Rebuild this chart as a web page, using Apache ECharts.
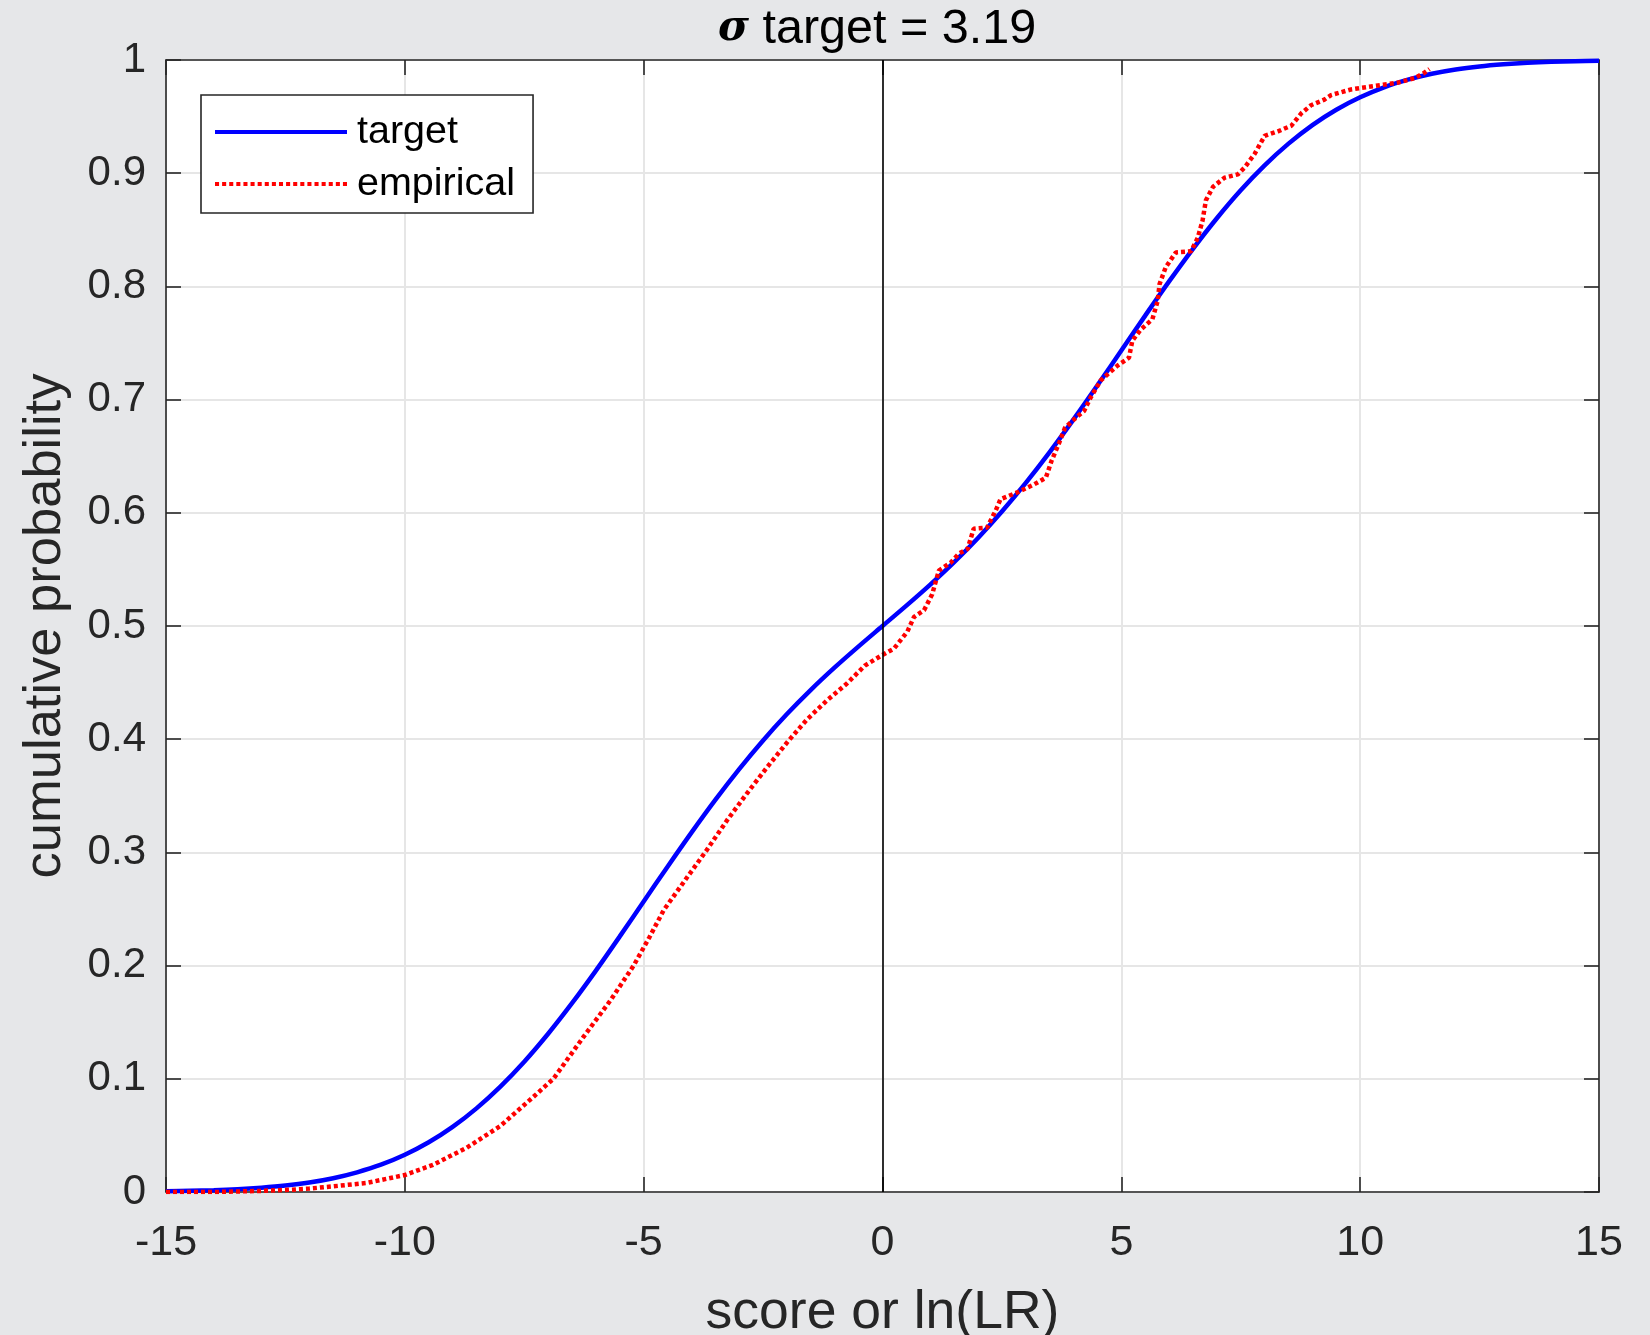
<!DOCTYPE html>
<html>
<head>
<meta charset="utf-8">
<script src="https://cdn.jsdelivr.net/npm/echarts@6/dist/echarts.min.js"></script>
<style>
html,body{margin:0;padding:0;background:#e6e7e9;}
#chart{width:1650px;height:1335px;}
</style>
</head>
<body>
<div id="chart"></div>
<script>
// ---- data ----
const titleText = 'target = 3.19';
const xAxisName = 'score or ln(LR)';
const yAxisName = 'cumulative probability';
const seriesNames = ['target', 'empirical'];

const targetX = [-15,-14.5,-14,-13.5,-13,-12.5,-12,-11.5,-11,-10.5,-10,-9.5,-9,-8.5,-8,-7.5,-7,-6.5,-6,-5.5,-5,-4.5,-4,-3.5,-3,-2.5,-2,-1.5,-1,-0.5,
  0,0.5,1,1.5,2,2.5,3,3.5,4,4.5,5,5.5,6,6.5,7,7.5,8,8.5,9,9.5,10,10.5,11,11.5,12,12.5,13,13.5,14,14.5,15];
const targetY = [0.0006,0.0010,0.0015,0.0024,0.0038,0.0057,0.0084,0.0122,0.0174,0.0241,0.0329,0.0439,0.0575,0.0739,0.0931,0.1151,0.1398,0.1668,0.1956,0.2258,0.2566,0.2874,0.3175,0.3464,0.3736,0.3989,0.4222,0.4436,0.4634,0.4820,
  0.5000,0.5180,0.5366,0.5564,0.5778,0.6011,0.6264,0.6536,0.6825,0.7126,0.7434,0.7742,0.8044,0.8332,0.8602,0.8849,0.9069,0.9261,0.9425,0.9561,0.9671,0.9759,0.9826,0.9878,0.9916,0.9943,0.9962,0.9976,0.9985,0.9990,0.9994];

const empiricalX = [-15,-14,-13,-12.4,-12,-11.5,-10.8,-10,-9.41,-8.71,-8.01,-7.31,-6.89,-6.26,-5.7,-5.21,-4.88,-4.58,-4.09,-3.68,-3.26,-2.84,-2.42,-2,-1.59,-1.17,-0.75,-0.37,-0.02,0.24,
  0.52,0.66,0.87,1.04,1.18,1.43,1.6,1.78,1.91,2.19,2.37,2.47,2.82,3.17,3.42,3.54,3.7,3.82,4.05,4.22,4.36,4.57,4.92,5.16,5.23,5.41,5.65,5.76,5.8,5.93,
  6.14,6.46,6.6,6.7,6.77,6.92,7.16,7.44,7.58,7.79,8,8.28,8.56,8.77,8.97,9.25,9.39,9.81,10.3,10.79,11.14,11.32,11.45];
const empiricalY = [0,0,0.001,0.002,0.003,0.005,0.008,0.015,0.024,0.039,0.058,0.084,0.1,0.137,0.169,0.2,0.225,0.249,0.278,0.302,0.328,0.352,0.375,0.397,0.417,0.434,0.449,0.465,0.474,0.48,
  0.495,0.508,0.514,0.528,0.549,0.556,0.564,0.568,0.586,0.587,0.602,0.612,0.618,0.625,0.631,0.646,0.662,0.675,0.684,0.69,0.702,0.717,0.73,0.737,0.752,0.762,0.771,0.787,0.802,0.817,
  0.83,0.831,0.843,0.858,0.876,0.888,0.896,0.899,0.905,0.917,0.933,0.937,0.942,0.953,0.96,0.965,0.969,0.974,0.977,0.98,0.984,0.988,0.992];

const xMin = -15, xMax = 15, xStep = 5;
const yMin = 0, yMax = 1, yStep = 0.1;

// ---- chart ----
const pair = (xs, ys) => xs.map((x, i) => [x, ys[i]]);
const FONT = '"Liberation Sans", Arial, Helvetica, sans-serif';
const AX = '#262626';

// legend icons: a solid bar and a row of small squares (dotted line)
const solidIcon = 'path://M0,0L132,0L132,4L0,4Z';
let dotPath = 'path://';
for (let i = 0; i < 19; i++) { const x0 = i * 7; dotPath += 'M' + x0 + ',0L' + (x0 + 4) + ',0L' + (x0 + 4) + ',4L' + x0 + ',4Z'; }

const chart = echarts.init(document.getElementById('chart'), null, {renderer: 'canvas'});
const axisCommon = {
  type: 'value',
  axisLine: {show: true, onZero: false, lineStyle: {color: AX, width: 1.6}},
  axisTick: {show: true, inside: true, length: 15, lineStyle: {color: AX, width: 1.6}},
};
chart.setOption({
  animation: false,
  backgroundColor: '#e6e7e9',
  title: {
    text: '{s|σ} ' + titleText,
    left: 718,
    top: 5,
    padding: 0,
    textStyle: {
      fontFamily: FONT, fontSize: 48.5, fontWeight: 'normal', color: '#000',
      rich: {s: {fontFamily: '"DejaVu Serif", "Liberation Serif", serif', fontStyle: 'italic', fontWeight: 'bold', fontSize: 42, color: '#000'}}
    }
  },
  grid: {left: 166, right: 51, top: 60, bottom: 143, show: true, backgroundColor: '#fff', borderWidth: 0, outerBoundsMode: 'none', containLabel: false},
  legend: {
    orient: 'vertical',
    left: 201, top: 95,
    data: [{name: seriesNames[0], icon: solidIcon}, {name: seriesNames[1], icon: dotPath}],
    itemWidth: 132, itemHeight: 4, itemGap: 12,
    symbolKeepAspect: false,
    padding: [17, 18, 9, 14],
    backgroundColor: '#fff',
    borderColor: AX, borderWidth: 1.6, borderRadius: 0,
    textStyle: {fontFamily: FONT, fontSize: 39.5, color: '#000', lineHeight: 40, padding: [0, 0, 0, 5]},
    selectedMode: false
  },
  xAxis: [
    Object.assign({}, axisCommon, {
      min: xMin, max: xMax, interval: xStep, position: 'bottom',
      name: xAxisName, nameLocation: 'middle', nameGap: 94,
      nameTextStyle: {fontFamily: FONT, fontSize: 53.5, color: AX},
      axisLabel: {show: true, margin: 30, fontFamily: FONT, fontSize: 43, color: AX},
      splitLine: {show: true, lineStyle: {color: '#e6e6e6', width: 2}}
    }),
    Object.assign({}, axisCommon, {
      min: xMin, max: xMax, interval: xStep, position: 'top',
      axisLabel: {show: false}, splitLine: {show: false}
    })
  ],
  yAxis: [
    Object.assign({}, axisCommon, {
      min: yMin, max: yMax, interval: yStep, position: 'left',
      name: yAxisName, nameLocation: 'middle', nameGap: 94,
      nameTextStyle: {fontFamily: FONT, fontSize: 52.5, color: AX},
      axisLabel: {show: true, margin: 20, fontFamily: FONT, fontSize: 42, color: AX},
      splitLine: {show: true, lineStyle: {color: '#e6e6e6', width: 2}}
    }),
    Object.assign({}, axisCommon, {
      min: yMin, max: yMax, interval: yStep, position: 'right',
      axisLabel: {show: false}, splitLine: {show: false}
    })
  ],
  series: [
    {
      name: seriesNames[0], type: 'line', xAxisIndex: 0, yAxisIndex: 0,
      data: pair(targetX, targetY),
      showSymbol: false, symbol: 'none', smooth: 0.3,
      lineStyle: {color: '#0000ff', width: 4.5, type: 'solid'},
      itemStyle: {color: '#0000ff'},
      emphasis: {disabled: true},
      markLine: {
        silent: true, symbol: ['none', 'none'], label: {show: false},
        lineStyle: {color: '#000', width: 1.6, type: 'solid'},
        emphasis: {disabled: true},
        data: [{xAxis: 0}]
      },
      z: 3
    },
    {
      name: seriesNames[1], type: 'line', xAxisIndex: 0, yAxisIndex: 0,
      data: pair(empiricalX, empiricalY),
      showSymbol: false, symbol: 'none', smooth: false,
      lineStyle: {color: '#ff0000', width: 4.5, type: [4, 3], cap: 'butt'},
      itemStyle: {color: '#ff0000'},
      emphasis: {disabled: true},
      z: 4
    }
  ]
});
</script>
</body>
</html>
